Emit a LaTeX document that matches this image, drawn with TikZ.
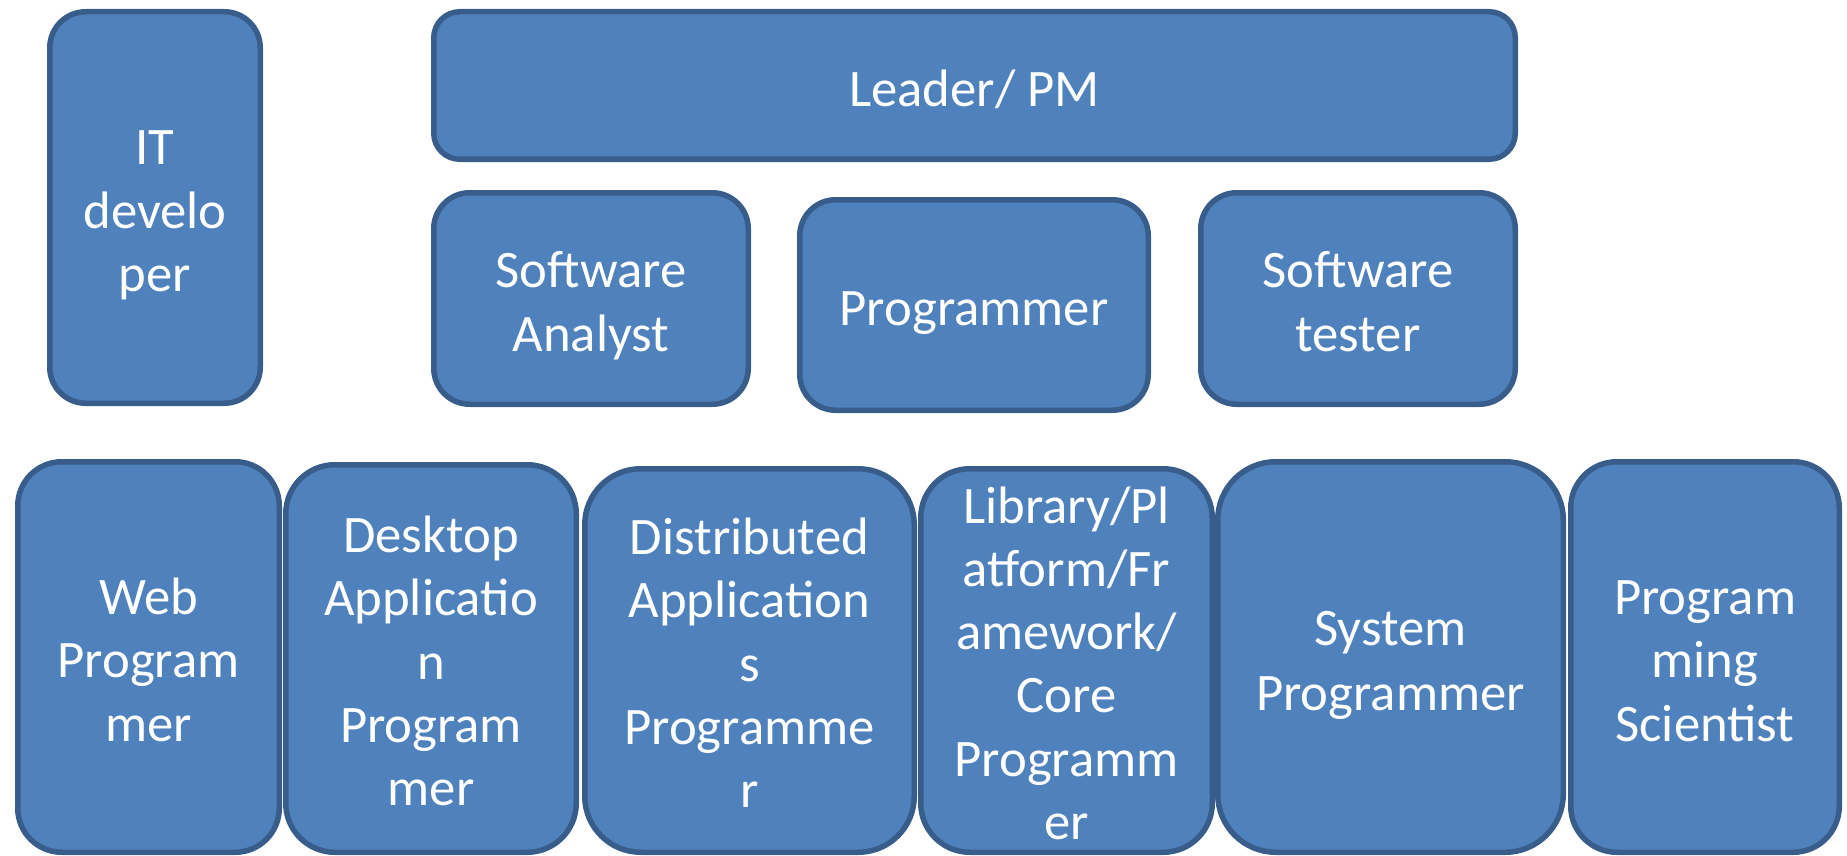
\documentclass[tikz,border=0pt]{standalone}
\usepackage{fontspec}
\setmainfont{Carlito}
\definecolor{boxfill}{RGB}{79,129,189}
\definecolor{boxline}{RGB}{56,93,138}
\newcommand\pstrut{\rule[-11pt]{0pt}{63.5pt}}
\tikzset{
  rolebox/.style={draw=boxline, fill=boxfill, line width=5.5pt, inner sep=0pt,
    align=center, text=white, font=\fontsize{52.7}{63.3}\selectfont},
}
\begin{document}
\begin{tikzpicture}[x=1pt,y=-1pt]
\useasboundingbox (0,0) rectangle (1847,856);
% top area
\node[rolebox, minimum width=210.5pt, minimum height=391.5pt, rounded corners=36pt] (it) at (155,207.5) {\pstrut IT\\develo\\per\pstrut};
\node[rolebox, minimum width=1081.5pt, minimum height=147.5pt, rounded corners=26pt] (leader) at (974.5,85.5) {\pstrut Leader/ PM};
\node[rolebox, minimum width=314.5pt, minimum height=211.5pt, rounded corners=36pt] (analyst) at (591,298.5) {\pstrut Software\\Analyst\pstrut};
\node[rolebox, minimum width=348.5pt, minimum height=210.5pt, rounded corners=36pt] (prog) at (974,305) {\pstrut Programmer};
\node[rolebox, minimum width=314.5pt, minimum height=211.5pt, rounded corners=36pt] (tester) at (1358,298.5) {\pstrut Software\\tester\pstrut};
% bottom row
\node[rolebox, minimum width=261.5pt, minimum height=390.5pt, rounded corners=44pt] (web) at (148.5,657) {\pstrut Web\\Program\\mer\pstrut};
\node[rolebox, minimum width=290.5pt, minimum height=387.5pt, rounded corners=49pt] (desktop) at (431,658.5) {\pstrut Desktop\\Applicatio\\n\\Program\\mer\pstrut};
\node[rolebox, minimum width=329.5pt, minimum height=383.5pt, rounded corners=56pt] (distributed) at (749.5,660.5) {\pstrut Distributed\\Application\\s\\Programme\\r\pstrut};
\node[rolebox, minimum width=291.5pt, minimum height=383.5pt, rounded corners=49pt] (library) at (1066.5,660.5) {\pstrut Library/Pl\\atform/Fr\\amework/\\Core\\Programm\\er\pstrut};
\node[rolebox, minimum width=345.5pt, minimum height=390.5pt, rounded corners=58pt] (system) at (1390.5,657) {\pstrut System\\Programmer\pstrut};
\node[rolebox, minimum width=268.5pt, minimum height=390.5pt, rounded corners=46pt] (scientist) at (1705,657) {\pstrut Program\\ming\\Scientist\pstrut};
\end{tikzpicture}
\end{document}
